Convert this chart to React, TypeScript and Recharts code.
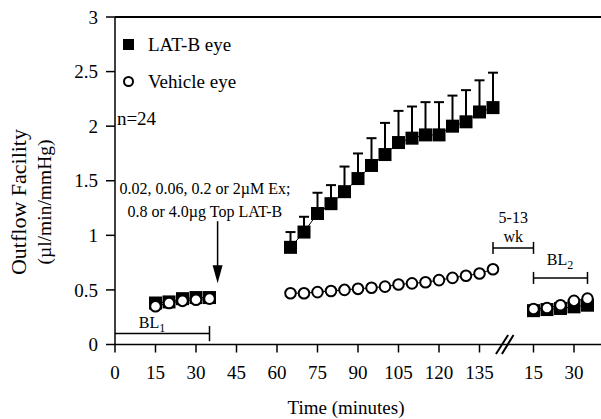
import { ComposedChart, Line, XAxis, YAxis, ErrorBar, ReferenceLine, ReferenceDot, Legend } from 'recharts';

const FONT = 'Liberation Serif, Times New Roman, serif';
// recovery minutes are drawn to the right of the axis break, shifted by this amount
const BREAK_OFFSET = 140;

const baselineMinutes = [15, 20, 25, 30, 35];
const baselineLatb = [0.38, 0.39, 0.42, 0.43, 0.43];
const baselineVehicle = [0.35, 0.38, 0.40, 0.41, 0.42];

const treatMinutes = [65, 70, 75, 80, 85, 90, 95, 100, 105, 110, 115, 120, 125, 130, 135, 140];
const treatLatb = [0.89, 1.03, 1.20, 1.29, 1.40, 1.52, 1.64, 1.74, 1.85, 1.89, 1.92, 1.92, 2.00, 2.04, 2.13, 2.17];
const treatLatbSem = [0.14, 0.14, 0.19, 0.17, 0.23, 0.23, 0.25, 0.29, 0.29, 0.29, 0.30, 0.30, 0.28, 0.29, 0.29, 0.32];
const treatVehicle = [0.47, 0.47, 0.48, 0.49, 0.50, 0.51, 0.52, 0.53, 0.55, 0.56, 0.57, 0.59, 0.61, 0.63, 0.65, 0.69];

const recoveryMinutes = [15, 20, 25, 30, 35];
const recoveryLatb = [0.31, 0.32, 0.33, 0.345, 0.36];
const recoveryVehicle = [0.325, 0.335, 0.36, 0.40, 0.42];

const xTicks = [0, 15, 30, 45, 60, 75, 90, 105, 120, 135, 155, 170];
const yTicks = [0, 0.5, 1, 1.5, 2, 2.5, 3];

const legendItems = [
  { label: 'LAT-B eye', marker: 'square' },
  { label: 'Vehicle eye', marker: 'circle' },
];

const toRows = (mins: number[], vals: number[], offset = 0, sem?: number[]) =>
  mins.map((m, i) => ({ x: m + offset, y: vals[i], sem: sem ? [0, sem[i]] : undefined }));

const baseLatbData = toRows(baselineMinutes, baselineLatb);
const baseVehData = toRows(baselineMinutes, baselineVehicle);
const treatLatbData = toRows(treatMinutes, treatLatb, 0, treatLatbSem);
const treatVehData = toRows(treatMinutes, treatVehicle);
const recLatbData = toRows(recoveryMinutes, recoveryLatb, BREAK_OFFSET);
const recVehData = toRows(recoveryMinutes, recoveryVehicle, BREAK_OFFSET);

const SquareDot = (p: any) => {
  if (p.cx == null || p.cy == null) return null;
  return <rect key={`sq-${p.index}`} x={p.cx - 6.5} y={p.cy - 6.5} width={13} height={13} fill="#000" />;
};

const CircleDot = (p: any) => {
  if (p.cx == null || p.cy == null) return null;
  return <circle key={`ci-${p.index}`} cx={p.cx} cy={p.cy} r={5.3} fill="#fff" stroke="#000" strokeWidth={2} />;
};

const seg = (x1: number, y1: number, x2: number, y2: number, key: string, w = 1.5) => (
  <ReferenceLine
    key={key}
    segment={[{ x: x1, y: y1 }, { x: x2, y: y2 }]}
    stroke="#000"
    strokeWidth={w}
    ifOverflow="visible"
  />
);

const note = (x: number, y: number, key: string, body: React.ReactNode, size = 16, anchor = 'middle') => (
  <ReferenceDot
    key={key}
    x={x}
    y={y}
    r={0}
    ifOverflow="visible"
    shape={(p: any) => (
      <text
        x={p.cx}
        y={p.cy}
        dy="0.35em"
        textAnchor={anchor}
        style={{ fontFamily: FONT, fill: '#000', stroke: 'none' }}
        fontSize={size}
      >
        {body}
      </text>
    )}
  />
);

const sub = (base: string, idx: string) => (
  <>
    {base}
    <tspan fontSize={12} dy={4} style={{ fill: '#000', stroke: 'none' }}>
      {idx}
    </tspan>
  </>
);

const ArrowHead = (p: any) => (
  <path d={`M${p.cx - 5},${p.cy - 18} L${p.cx + 5},${p.cy - 18} L${p.cx},${p.cy} Z`} fill="#000" />
);

function LegendBox() {
  return (
    <div style={{ fontFamily: FONT, fontSize: 19, color: '#000' }}>
      {legendItems.map((it) => (
        <div key={it.label} style={{ display: 'flex', alignItems: 'center', height: 37 }}>
          <div style={{ width: 12, display: 'flex', justifyContent: 'center' }}>
            {it.marker === 'square' ? (
              <div style={{ width: 11, height: 11, background: '#000' }} />
            ) : (
              <div style={{ width: 7, height: 7, border: '2px solid #000', borderRadius: '50%' }} />
            )}
          </div>
          <span style={{ marginLeft: 14, whiteSpace: 'nowrap' }}>{it.label}</span>
        </div>
      ))}
    </div>
  );
}

const tickStyle = { fill: '#000', fontSize: 19, fontFamily: FONT };

export default function App() {
  return (
    <div style={{ position: 'absolute', left: 0, top: 0, width: 601, height: 419, background: '#fff', fontFamily: FONT }}>
      <ComposedChart width={601} height={419} margin={{ top: 17, right: 0, bottom: 0, left: 0 }} style={{ fontFamily: FONT }}>
        <XAxis
          dataKey="x"
          type="number"
          domain={[0, 180]}
          ticks={xTicks}
          tickFormatter={(v: number) => String(v > BREAK_OFFSET ? v - BREAK_OFFSET : v)}
          height={74.5}
          stroke="#000"
          strokeWidth={1.5}
          tickSize={8}
          tickMargin={13}
          tick={tickStyle}
          label={{
            content: () => (
              <text x={346} y={414} textAnchor="middle" style={{ fontFamily: FONT }} fontSize={19} fill="#000">
                Time (minutes)
              </text>
            ),
          }}
        />
        <YAxis
          type="number"
          domain={[0, 3]}
          ticks={yTicks}
          width={115}
          stroke="#000"
          strokeWidth={1.5}
          tickSize={9}
          tickMargin={8}
          tick={tickStyle}
          label={{
            content: (props: any) => {
              const vb = props.viewBox || { x: 0, y: 17, height: 327 };
              const cy = vb.y + vb.height * 0.565;
              return (
                <g style={{ fontFamily: FONT }} fill="#000">
                  <text x={19} y={cy} fontSize={22} transform={`rotate(-90, 19, ${cy})`} textAnchor="middle" dominantBaseline="central">
                    Outflow Facility
                  </text>
                  <text x={45} y={cy} fontSize={19.5} transform={`rotate(-90, 45, ${cy})`} textAnchor="middle" dominantBaseline="central">
                    (µl/min/mmHg)
                  </text>
                </g>
              );
            },
          }}
        />
        <Legend
          layout="vertical"
          align="center"
          verticalAlign="middle"
          wrapperStyle={{ position: 'absolute', left: 122, top: 26, width: 'auto', height: 'auto' }}
          content={() => <LegendBox />}
        />

        <ReferenceLine y={3} stroke="#000" strokeWidth={2} />

        {/* BL1, 5-13 wk and BL2 brackets */}
        {seg(0, 0.1, 35, 0.1, 'bl1')}
        {seg(35, 0.03, 35, 0.17, 'bl1cap')}
        {seg(140, 0.885, 155, 0.885, 'wk')}
        {seg(140, 0.83, 140, 0.94, 'wkcapL')}
        {seg(155, 0.83, 155, 0.94, 'wkcapR')}
        {seg(155, 0.61, 175, 0.61, 'bl2')}
        {seg(155, 0.555, 155, 0.665, 'bl2capL')}
        {seg(175, 0.555, 175, 0.665, 'bl2capR')}

        {/* axis break */}
        {seg(141.1, -0.087, 145.6, 0.087, 'brk1', 2)}
        {seg(143.3, -0.087, 147.6, 0.087, 'brk2', 2)}

        {/* treatment arrow */}
        {seg(38, 1.13, 38, 0.66, 'arrow')}
        <ReferenceDot x={38} y={0.56} r={0} ifOverflow="visible" shape={ArrowHead} />

        {note(33.3, 1.43, 'dose1', '0.02, 0.06, 0.2 or 2µM Ex;')}
        {note(33.3, 1.22, 'dose2', '0.8 or 4.0µg Top LAT-B')}
        {note(147.5, 1.16, 'wk1', '5-13')}
        {note(147.5, 0.99, 'wk2', 'wk')}
        {note(13.7, 0.2, 'bl1t', sub('BL', '1'))}
        {note(164.8, 0.78, 'bl2t', sub('BL', '2'))}
        {note(0.7, 2.07, 'n', 'n=24', 19, 'start')}

        <Line data={baseLatbData} dataKey="y" stroke="#000" strokeWidth={1} dot={SquareDot} isAnimationActive={false} />
        <Line data={treatLatbData} dataKey="y" stroke="#000" strokeWidth={1} dot={SquareDot} isAnimationActive={false}>
          <ErrorBar dataKey="sem" direction="y" width={5} strokeWidth={2} stroke="#000" />
        </Line>
        <Line data={recLatbData} dataKey="y" stroke="#000" strokeWidth={1} dot={SquareDot} isAnimationActive={false} />
        <Line data={baseVehData} dataKey="y" stroke="#000" strokeWidth={1} dot={CircleDot} isAnimationActive={false} />
        <Line data={treatVehData} dataKey="y" stroke="#000" strokeWidth={1} dot={CircleDot} isAnimationActive={false} />
        <Line data={recVehData} dataKey="y" stroke="#000" strokeWidth={1} dot={CircleDot} isAnimationActive={false} />
      </ComposedChart>
    </div>
  );
}
